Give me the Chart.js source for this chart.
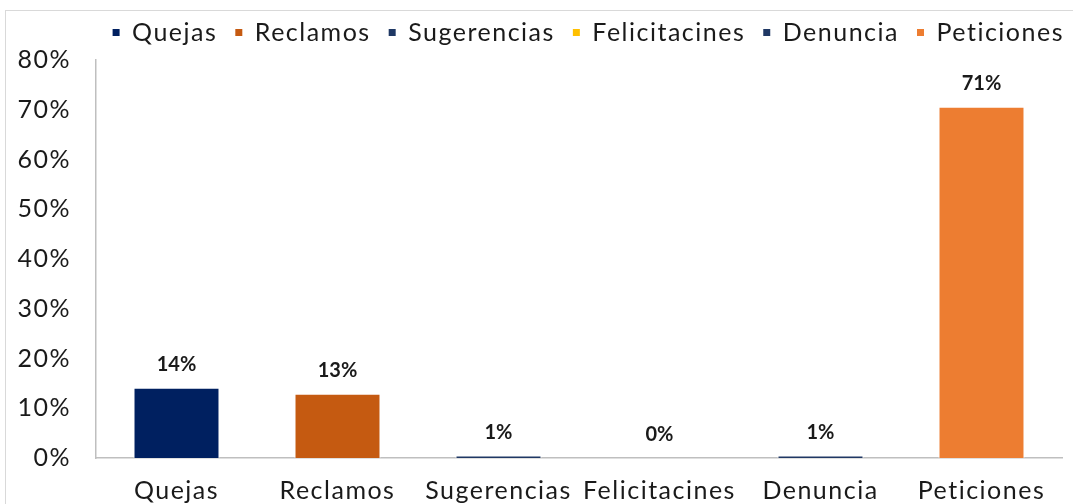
<!DOCTYPE html>
<html>
<head>
<meta charset="utf-8">
<script src="https://cdn.jsdelivr.net/npm/chart.js@4/dist/chart.umd.min.js"></script>
<style>
  html, body { margin: 0; padding: 0; background: #fff; }
  #wrap { position: relative; width: 1073px; height: 504px; overflow: hidden; }
  #frame { position: absolute; left: 5px; top: 10px; width: 1100px; height: 540px; border: 1px solid #d9d9d9; }
  #chart { position: absolute; left: 0; top: 0; }
</style>
</head>
<body>
<div id="wrap">
  <div id="frame"></div>
  <canvas id="chart" width="1073" height="504"></canvas>
</div>
<script>
'use strict';

// Tipos de solicitud y su participación (%)
const CATEGORIES = ['Quejas', 'Reclamos', 'Sugerencias', 'Felicitacines', 'Denuncia', 'Peticiones'];
const SHARES     = [14.1, 12.9, 0.5, 0, 0.5, 70.6];
const COLORS     = ['#002060', '#C55A11', '#1F3864', '#FFC000', '#203864', '#ED7D31'];
const Y_TICKS    = [0, 10, 20, 30, 40, 50, 60, 70, 80];

const FONT = "Lato, 'Open Sans', sans-serif";
const INK  = '#1a1a1a';
const AXIS = '#bfbfbf';
const SPACING = '1.5px';

// Texto más ancho: espaciado entre letras en todo el lienzo
const wideText = {
  id: 'wideText',
  afterInit(chart)    { chart.ctx.letterSpacing = SPACING; },
  beforeUpdate(chart) { chart.ctx.letterSpacing = SPACING; },
  beforeDraw(chart)   { chart.ctx.letterSpacing = SPACING; }
};

// Etiquetas de valor encima de cada barra
const valueLabels = {
  id: 'valueLabels',
  afterDatasetsDraw(chart) {
    const { ctx } = chart;
    const meta = chart.getDatasetMeta(0);
    ctx.save();
    ctx.letterSpacing = '0px';
    ctx.font = `bold 20px ${FONT}`;
    ctx.fillStyle = INK;
    ctx.textAlign = 'center';
    ctx.textBaseline = 'alphabetic';
    meta.data.forEach((bar, i) => {
      ctx.fillText(Math.round(SHARES[i]) + '%', bar.x, bar.y - 17);
    });
    ctx.restore();
  }
};

// Leyenda: altura fija y corrida hasta el borde derecho
const legendBox = {
  id: 'legendBox',
  beforeInit(chart) {
    const legend = chart.legend;
    const fit = legend.fit;
    legend.fit = function () {
      fit.call(this);
      this.height = 58;
    };
  },
  afterLayout(chart) {
    chart.legend.left += 20;
    chart.legend.right += 20;
  }
};

new Chart(document.getElementById('chart'), {
  type: 'bar',
  data: {
    labels: CATEGORIES,
    datasets: [{
      data: SHARES,
      backgroundColor: COLORS,
      borderColor: '#ffffff',
      borderWidth: 1,
      barPercentage: 0.534,
      categoryPercentage: 1
    }]
  },
  options: {
    responsive: false,
    animation: false,
    layout: { padding: { left: 0, right: 11, top: 2, bottom: 0 } },
    plugins: {
      tooltip: { enabled: false },
      legend: {
        position: 'top',
        align: 'end',
        labels: {
          font: { family: FONT, size: 25 },
          color: INK,
          boxWidth: 7,
          boxHeight: 7,
          padding: 18,
          generateLabels: () => CATEGORIES.map((c, i) => ({
            text: c,
            fillStyle: COLORS[i],
            strokeStyle: COLORS[i],
            lineWidth: 0,
            fontColor: INK,
            hidden: false,
            index: i
          }))
        }
      }
    },
    scales: {
      x: {
        grid: { display: false, drawTicks: false },
        border: { display: true, color: AXIS, width: 1.5 },
        ticks: { font: { family: FONT, size: 25 }, color: INK, padding: 18, maxRotation: 0, autoSkip: false },
        afterFit(scale) { scale.height = 46; }
      },
      y: {
        min: 0,
        max: 80,
        afterBuildTicks(scale) { scale.ticks = Y_TICKS.map(v => ({ value: v })); },
        grid: { display: false, drawTicks: false },
        border: { display: true, color: AXIS, width: 1.5 },
        ticks: { font: { family: FONT, size: 25 }, color: INK, padding: 25, callback: v => v + '%' },
        afterFit(scale) { scale.width = 96; }
      }
    }
  },
  plugins: [wideText, valueLabels, legendBox]
});
</script>
</body>
</html>
